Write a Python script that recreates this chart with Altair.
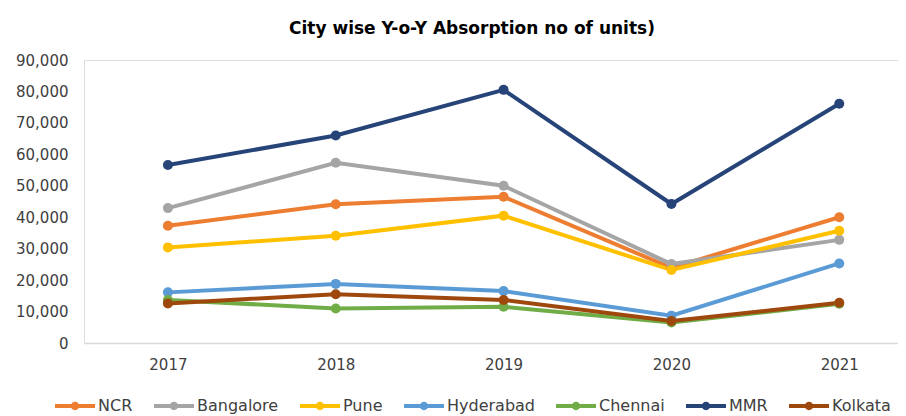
import altair as alt
import pandas as pd

years = [2017, 2018, 2019, 2020, 2021]
cities = ["NCR", "Bangalore", "Pune", "Hyderabad", "Chennai", "MMR", "Kolkata"]
ncr = [37300, 44100, 46500, 23900, 40000]
bangalore = [42900, 57300, 50000, 25100, 32800]
pune = [30400, 34100, 40500, 23200, 35700]
hyderabad = [16100, 18800, 16500, 8700, 25300]
chennai = [13700, 11000, 11500, 6500, 12500]
mmr = [56600, 66000, 80500, 44200, 76100]
kolkata = [12600, 15500, 13700, 7000, 12800]
colors = ["#ED7D31", "#A5A5A5", "#FFC000", "#5B9BD5", "#70AD47", "#264478", "#9E480E"]

series = [ncr, bangalore, pune, hyderabad, chennai, mmr, kolkata]
rows = []
for ci, (city, vals) in enumerate(zip(cities, series)):
    for y, v in zip(years, vals):
        rows.append({"Year": y, "City": city, "Units": v, "ord": ci})
df = pd.DataFrame(rows)

FONT = "DejaVu Sans"
TXT = "#404040"

# line-with-dot legend glyph, built from filled shapes
sym = ("M-1,-0.1L-0.17,-0.1L-0.17,0.1L-1,0.1Z"
       "M0.17,-0.1L1,-0.1L1,0.1L0.17,0.1Z"
       "M-0.21,0A0.21,0.21 0 1,1 0.21,0A0.21,0.21 0 1,1 -0.21,0Z")

color = alt.Color(
    "City:N",
    scale=alt.Scale(domain=cities, range=colors),
    legend=alt.Legend(
        title=None,
        orient="none",
        direction="horizontal",
        legendX=-29,
        legendY=326,
        symbolType=sym,
        symbolSize=1600,
        symbolStrokeWidth=0,
        symbolOpacity=1,
        labelFont=FONT,
        labelFontSize=16,
        labelColor=TXT,
        labelOffset=3,
        columnPadding=21,
        columns=7,
    ),
)

base = alt.Chart(df).encode(
    x=alt.X(
        "Year:Q",
        scale=alt.Scale(domain=[2016.5, 2021.35], nice=False, zero=False),
        axis=alt.Axis(
            values=years,
            format="d",
            title=None,
            grid=False,
            ticks=False,
            domainColor="#D9D9D9",
            domainWidth=1.5,
            labelFont=FONT,
            labelFontSize=15,
            labelColor=TXT,
            labelPadding=14,
        ),
    ),
    y=alt.Y(
        "Units:Q",
        scale=alt.Scale(domain=[0, 90000], nice=False),
        axis=alt.Axis(
            values=list(range(0, 90001, 10000)),
            format=",d",
            title=None,
            grid=False,
            ticks=False,
            domain=False,
            labelFont=FONT,
            labelFontSize=15,
            labelColor=TXT,
            labelPadding=16,
        ),
    ),
    color=color,
    detail="City:N",
    order=alt.Order("ord:Q"),
)

lines = base.mark_line(strokeWidth=4, point=alt.OverlayMarkDef(filled=True, size=100, opacity=1))

chart = lines.properties(
    width=814,
    height=283,
    autosize=alt.AutoSizeParams(type="none"),
    padding={"left": 76, "top": 52, "right": 0, "bottom": 73},
    title=alt.TitleParams(
        "City wise Y-o-Y Absorption no of units)",
        font=FONT,
        fontSize=17,
        fontWeight="bold",
        color="#000000",
        anchor="middle",
        offset=15,
        dx=-19,
    ),
).configure_view(stroke=None).configure(background="white")

chart.save("out.html", embed_options={"renderer": "svg", "actions": False})
